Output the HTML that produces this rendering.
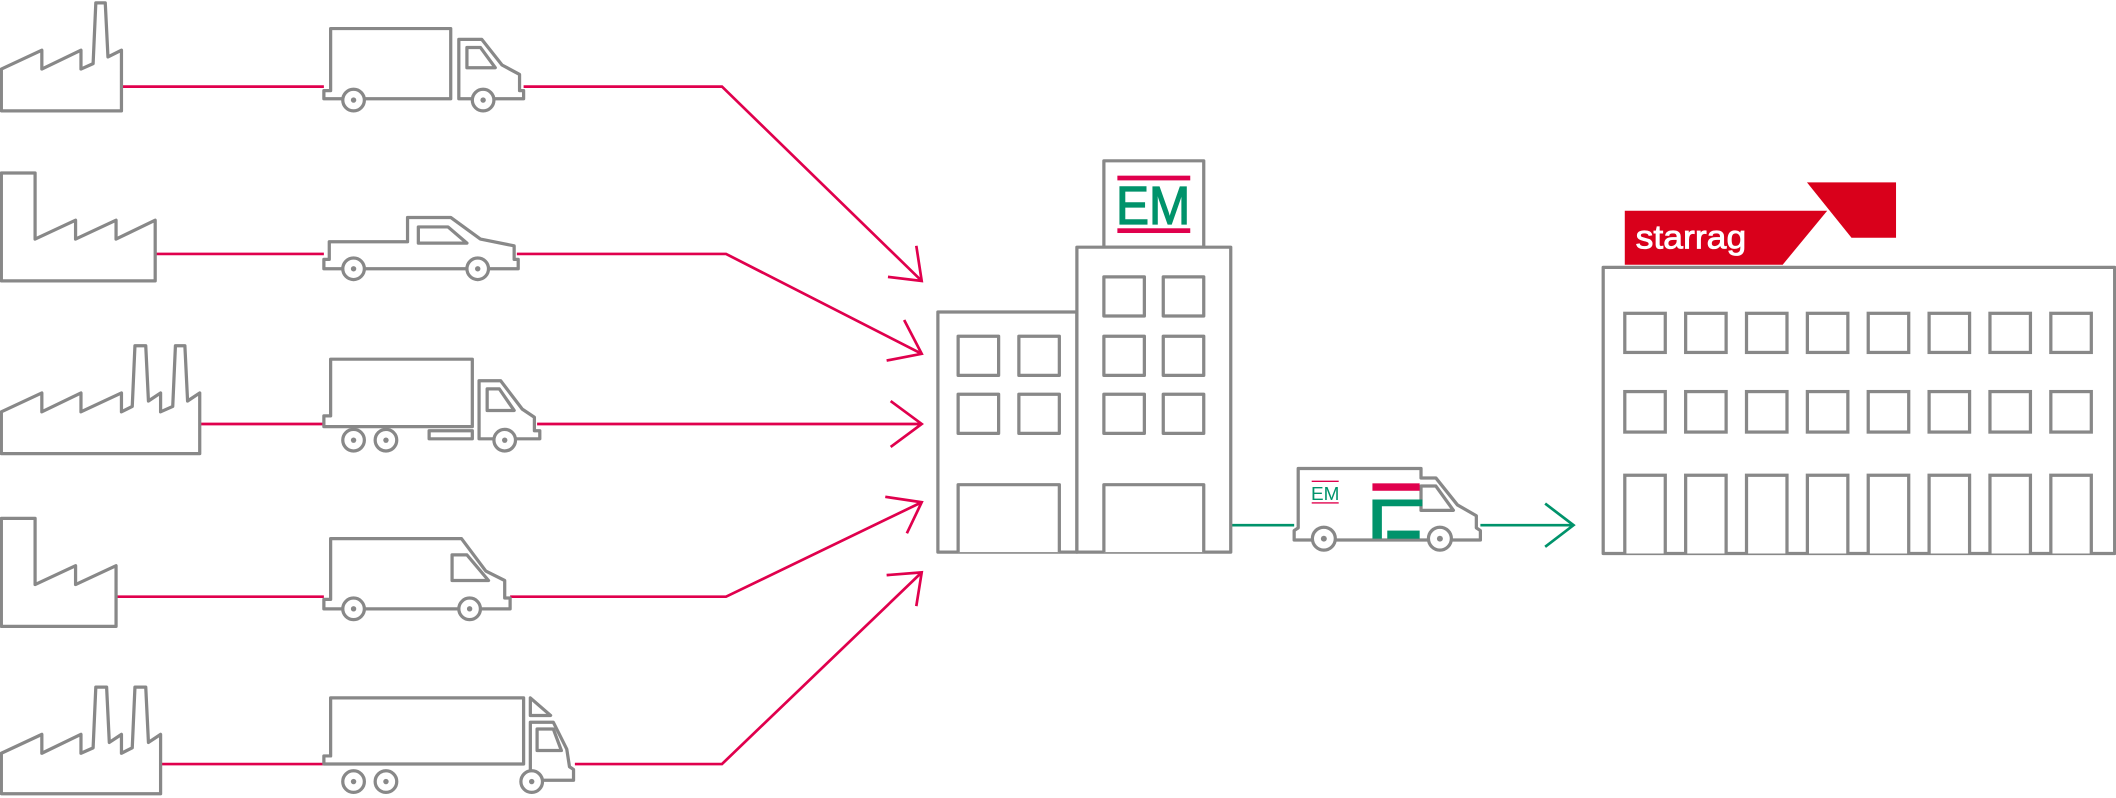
<!DOCTYPE html>
<html><head><meta charset="utf-8"><style>html,body{margin:0;padding:0;background:#fff}svg{display:block}</style></head>
<body>
<svg width="2116" height="798" viewBox="0 0 1568 591" xmlns="http://www.w3.org/2000/svg">
<g fill="none" stroke="#e0004d" stroke-width="2">
<path d="M90 64H240M388 64H535L683 208M658 205L683 208L679 182"/>
<path d="M115 188H240M383 188H538L683 262M657 267L683 262L670 237"/>
<path d="M148 314H240M398 314H683M660 297L683 314L660 331"/>
<path d="M86 442H240M378 442H538L683 372M656 368L683 372L672 395"/>
<path d="M119 566H240M426 566H535L683 424M657 426L683 424L679 449"/>
</g>
<g fill="none" stroke="#00936b" stroke-width="2">
<path d="M912 389H959M1097 389H1166M1145 373L1166 389L1145 405"/>
</g>
<g fill="#fff" stroke="#888" stroke-width="2.4" stroke-linejoin="round">
<path d="M1 82V51L31 37V51L60 37V51L69 47L71 2H78L80 42L90 37V82Z"/>
<path d="M1 208V128H26V177L56 163V177L86 163V177L115 163V208Z"/>
<path d="M1 336V305L31 291V305L60 291V305L90 291V305L98 301L100 256H108L110 297L119 291V305L128 301L130 256H137L139 297L148 291V336Z"/>
<path d="M1 464V384H26V433L56 419V433L86 419V464Z"/>
<path d="M1 588V558L31 544V558L60 544V558L69 554L71 509H79L81 550L90 544V558L98 554L100 509H108L110 550L119 544V588Z"/>
<path d="M245 21H334V73H240V67H245Z"/>
<path d="M340 29H357L372 48L385 55V67H388V73H340Z"/>
<path d="M346 35H356L367 50H346Z"/>
<circle cx="262" cy="74" r="8"/><circle cx="358" cy="74" r="8"/>
<path d="M240 192H244V179H302V161H334L356 177L381 182V192H384V199H240Z"/>
<path d="M310 168H332L346 180H310Z"/>
<circle cx="262" cy="199" r="8"/><circle cx="354" cy="199" r="8"/>
<path d="M245 266H350V316H240V308H245Z"/>
<path d="M355 282H371L387 303L396 309V319H400V325H355Z"/>
<path d="M361 288H370L381 304H361Z"/>
<rect x="318" y="319" width="32" height="6"/>
<circle cx="262" cy="326" r="8"/><circle cx="286" cy="326" r="8"/><circle cx="374" cy="326" r="8"/>
<path d="M245 399H342L360 423L374 430V443H378V451H240V444H245Z"/>
<path d="M335 411H346L362 430H335Z"/>
<circle cx="262" cy="451" r="8"/><circle cx="348" cy="451" r="8"/>
<path d="M245 517H388V566H240V560H245Z"/>
<path d="M393 517L408 530H393Z"/>
<path d="M393 535H410L420 555L422 568L425 570V578H393Z"/>
<path d="M398 540H410L416 556H398Z"/>
<circle cx="262" cy="579" r="8"/><circle cx="286" cy="579" r="8"/><circle cx="394" cy="579" r="8"/>
<rect x="818" y="119" width="74" height="64"/>
<rect x="695" y="231" width="103" height="178"/>
<rect x="798" y="183" width="114" height="226"/>
<rect x="710" y="249" width="30" height="29"/><rect x="755" y="249" width="30" height="29"/>
<rect x="710" y="292" width="30" height="29"/><rect x="755" y="292" width="30" height="29"/>
<rect x="818" y="205" width="30" height="29"/><rect x="862" y="205" width="30" height="29"/>
<rect x="818" y="249" width="30" height="29"/><rect x="862" y="249" width="30" height="29"/>
<rect x="818" y="292" width="30" height="29"/><rect x="862" y="292" width="30" height="29"/>
<path d="M710 409V359H785V409M818 409V359H892V409"/>
<path d="M962 347H1053V354H1064L1080 374L1094 382V391L1097 393V400H959V393L962 391Z"/>
<path d="M1053 360H1064L1077 378H1053Z"/>
<circle cx="981" cy="399" r="8.5"/><circle cx="1067" cy="399" r="8.5"/>
<rect x="1188" y="198" width="379" height="212"/>
</g>
<g fill="#fff" stroke="#888" stroke-width="2.4">
<g id="w">
<rect x="1204" y="232" width="30" height="29"/>
<rect x="1204" y="290" width="30" height="30"/>
<path d="M1204 410V352H1234V410"/>
</g>
<use href="#w" x="45.1"/><use href="#w" x="90.2"/><use href="#w" x="135.3"/><use href="#w" x="180.4"/><use href="#w" x="225.5"/><use href="#w" x="270.6"/><use href="#w" x="315.7"/>
</g>
<g fill="#888"><circle cx="262" cy="74" r="2"/><circle cx="358" cy="74" r="2"/><circle cx="262" cy="199" r="2"/><circle cx="354" cy="199" r="2"/><circle cx="262" cy="326" r="2"/><circle cx="286" cy="326" r="2"/><circle cx="374" cy="326" r="2"/><circle cx="262" cy="451" r="2"/><circle cx="348" cy="451" r="2"/><circle cx="262" cy="579" r="2"/><circle cx="286" cy="579" r="2"/><circle cx="394" cy="579" r="2"/><circle cx="981" cy="399" r="2.2"/><circle cx="1067" cy="399" r="2.2"/></g>
<rect x="828" y="130" width="54" height="3.5" fill="#e0004d"/>
<rect x="828" y="169" width="54" height="3.5" fill="#e0004d"/>
<text x="827" y="166" font-family="Liberation Sans, sans-serif" font-size="40" fill="#00936b" stroke="#00936b" stroke-width="1" textLength="55" lengthAdjust="spacingAndGlyphs">EM</text>
<rect x="972" y="356" width="20" height="1" fill="#e0004d"/>
<rect x="972" y="372" width="20" height="1" fill="#e0004d"/>
<text x="971.5" y="370.5" font-family="Liberation Sans, sans-serif" font-size="14" fill="#00936b" textLength="21" lengthAdjust="spacingAndGlyphs">EM</text>
<rect x="1017" y="358" width="35" height="5.5" fill="#e0004d"/>
<path d="M1017 370H1054V375H1024V399H1017Z" fill="#00936b"/>
<rect x="1028" y="393" width="24" height="6" fill="#00936b"/>
<path d="M1204 156H1354L1321 196H1204Z" fill="#d9001b"/>
<path d="M1339 135H1405V176H1372Z" fill="#d9001b"/>
<text x="1212" y="184" font-family="Liberation Sans, sans-serif" font-size="25" fill="#fff" stroke="#fff" stroke-width="0.6" textLength="82" lengthAdjust="spacingAndGlyphs">starrag</text>
</svg>
</body></html>
